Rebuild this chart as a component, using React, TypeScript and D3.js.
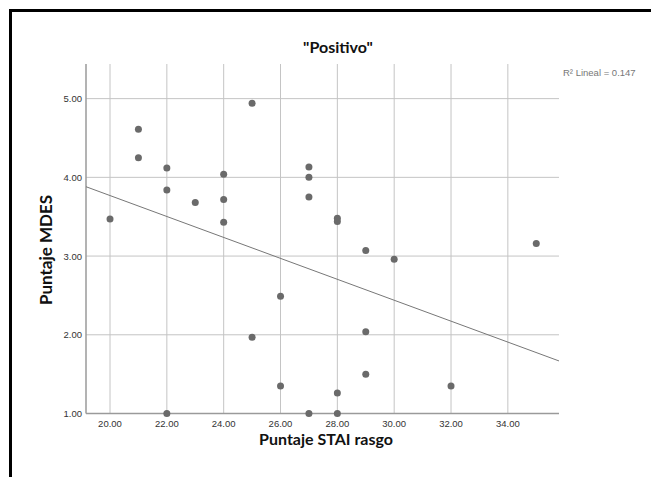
import React, { useEffect, useRef } from "react";
import * as d3 from "d3";

// STAI rasgo (x) and MDES (y) scores
const staiScores = [20, 21, 21, 22, 22, 22, 23, 24, 24, 24, 25, 25, 26, 26, 27, 27, 27, 27, 28, 28, 28, 28, 29, 29, 29, 30, 32, 35];
const mdesScores = [3.47, 4.61, 4.25, 4.12, 3.84, 1.0, 3.68, 4.04, 3.72, 3.43, 4.94, 1.97, 2.49, 1.35, 4.13, 4.0, 3.75, 1.0, 3.48, 3.44, 1.26, 1.0, 3.07, 2.04, 1.5, 2.96, 1.35, 3.16];

const xTicks = [20, 22, 24, 26, 28, 30, 32, 34];
const yTicks = [1, 2, 3, 4, 5];
const r2Label = "R\u00B2 Lineal = 0.147";

const App = () => {
  const ref = useRef<SVGSVGElement | null>(null);

  useEffect(() => {
    const svg = d3.select(ref.current);
    svg.selectAll("*").remove();

    const x = d3.scaleLinear().domain([19.155, 35.8]).range([86, 559]);
    const y = d3.scaleLinear().domain([1, 5.44]).range([413.5, 64]);

    // outer frame (runs off the right and bottom edges)
    svg
      .append("path")
      .attr("d", "M10.5,490 L10.5,10.5 L660,10.5")
      .attr("fill", "none")
      .attr("stroke", "#000")
      .attr("stroke-width", 3);

    // grid
    svg
      .append("g")
      .selectAll("line")
      .data(xTicks)
      .enter()
      .append("line")
      .attr("x1", (d) => x(d))
      .attr("x2", (d) => x(d))
      .attr("y1", y.range()[1])
      .attr("y2", y.range()[0])
      .attr("stroke", "#c4c4c4")
      .attr("stroke-width", 1);

    svg
      .append("g")
      .selectAll("line")
      .data(yTicks)
      .enter()
      .append("line")
      .attr("x1", x.range()[0])
      .attr("x2", x.range()[1])
      .attr("y1", (d) => y(d))
      .attr("y2", (d) => y(d))
      .attr("stroke", "#c4c4c4")
      .attr("stroke-width", 1);

    // axes lines
    svg
      .append("line")
      .attr("x1", x.range()[0])
      .attr("x2", x.range()[1])
      .attr("y1", y.range()[0])
      .attr("y2", y.range()[0])
      .attr("stroke", "#9a9a9a")
      .attr("stroke-width", 1.5);
    svg
      .append("line")
      .attr("x1", x.range()[0])
      .attr("x2", x.range()[0])
      .attr("y1", y.range()[1])
      .attr("y2", y.range()[0])
      .attr("stroke", "#9a9a9a")
      .attr("stroke-width", 1.5);

    // tick labels
    svg
      .append("g")
      .selectAll("text")
      .data(xTicks)
      .enter()
      .append("text")
      .attr("x", (d) => x(d))
      .attr("y", 427)
      .attr("text-anchor", "middle")
      .style("font-family", "'Liberation Sans', Arial, sans-serif")
      .style("font-size", "9.5px")
      .attr("fill", "#333")
      .text((d) => d3.format(".2f")(d));

    svg
      .append("g")
      .selectAll("text")
      .data(yTicks)
      .enter()
      .append("text")
      .attr("x", 82)
      .attr("y", (d) => y(d) + 3.5)
      .attr("text-anchor", "end")
      .style("font-family", "'Liberation Sans', Arial, sans-serif")
      .style("font-size", "9.5px")
      .attr("fill", "#333")
      .text((d) => d3.format(".2f")(d));

    // regression line (least squares on the points)
    const mx = d3.mean(staiScores) as number;
    const my = d3.mean(mdesScores) as number;
    const sxy = d3.sum(staiScores, (v, i) => (v - mx) * (mdesScores[i] - my));
    const sxx = d3.sum(staiScores, (v) => (v - mx) * (v - mx));
    const slope = sxy / sxx;
    const icpt = my - slope * mx;
    const [x0, x1] = x.domain();
    svg
      .append("line")
      .attr("x1", x(x0))
      .attr("y1", y(icpt + slope * x0))
      .attr("x2", x(x1))
      .attr("y2", y(icpt + slope * x1))
      .attr("stroke", "#777")
      .attr("stroke-width", 1);

    // points
    svg
      .append("g")
      .selectAll("circle")
      .data(staiScores)
      .enter()
      .append("circle")
      .attr("cx", (d) => x(d))
      .attr("cy", (d, i) => y(mdesScores[i]))
      .attr("r", 3.5)
      .attr("fill", "#6a6a6a");

    // titles
    svg
      .append("text")
      .attr("x", 338)
      .attr("y", 53)
      .attr("text-anchor", "middle")
      .style("font-family", "Lato, 'Open Sans', sans-serif")
      .style("font-weight", "bold")
      .style("font-size", "16px")
      .attr("fill", "#111")
      .text('"Positivo"');

    svg
      .append("text")
      .attr("x", 326)
      .attr("y", 445)
      .attr("text-anchor", "middle")
      .style("font-family", "Lato, 'Open Sans', sans-serif")
      .style("font-weight", "bold")
      .style("font-size", "16px")
      .attr("fill", "#111")
      .text("Puntaje STAI rasgo");

    svg
      .append("text")
      .attr("transform", "translate(52,250) rotate(-90)")
      .attr("text-anchor", "middle")
      .style("font-family", "Lato, 'Open Sans', sans-serif")
      .style("font-weight", "bold")
      .style("font-size", "17px")
      .attr("fill", "#111")
      .text("Puntaje MDES");

    svg
      .append("text")
      .attr("x", 563)
      .attr("y", 76)
      .style("font-family", "'Liberation Sans', Arial, sans-serif")
      .style("font-size", "9.5px")
      .attr("fill", "#777")
      .text(r2Label);
  }, []);

  return (
    <svg
      ref={ref}
      width={651}
      height={477}
      style={{ position: "absolute", left: 0, top: 0, background: "#fff" }}
    ></svg>
  );
};

export default App;
